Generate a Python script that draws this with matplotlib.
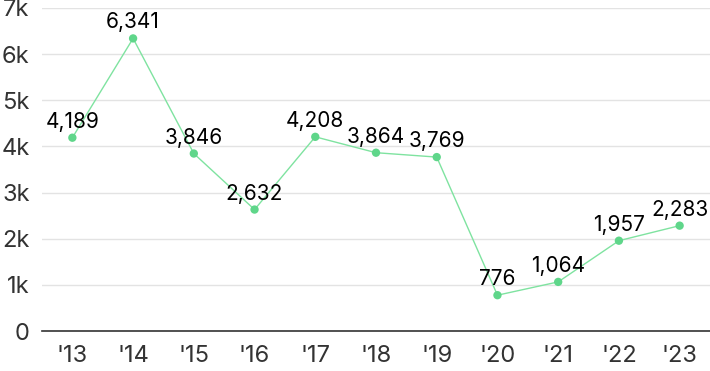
import matplotlib.pyplot as plt
from matplotlib.ticker import FuncFormatter

plt.rcParams['font.family'] = ['Inter', 'DejaVu Sans']

years = ["'13", "'14", "'15", "'16", "'17", "'18", "'19", "'20", "'21", "'22", "'23"]
values = [4189, 6341, 3846, 2632, 4208, 3864, 3769, 776, 1064, 1957, 2283]

fig = plt.figure(figsize=(7.1, 3.71), dpi=100)
ax = fig.add_axes([42 / 710, 40 / 371, 1 - 42 / 710, 323 / 371])

x = list(range(len(years)))
ax.plot(x, values, color='#7fe3a0', linewidth=1, zorder=3)
ax.scatter(x, values, s=36, color='#5fd68a', zorder=4, edgecolors='none')

for xi, v in zip(x, values):
    ax.annotate(f'{v:,}', (xi, v), xytext=(0, 6), textcoords='offset pixels',
                ha='center', va='bottom', fontsize=15, color='black', zorder=5)

ax.set_xlim(-0.5, len(years) - 0.5)
ax.set_ylim(0, 7000)
ax.set_yticks(range(0, 7001, 1000))
ax.yaxis.set_major_formatter(FuncFormatter(lambda v, p: '0' if v == 0 else f'{int(v / 1000)}k'))
ax.set_xticks(x)
ax.set_xticklabels(years)

ax.grid(axis='y', color='#e3e3e3', linewidth=1)
ax.set_axisbelow(True)
for s in ['top', 'right', 'left']:
    ax.spines[s].set_visible(False)
ax.spines['bottom'].set_color('#333333')
ax.spines['bottom'].set_linewidth(1.2)
ax.tick_params(axis='both', length=0, labelsize=17, colors='#333333')
ax.tick_params(axis='y', pad=9)
ax.tick_params(axis='x', pad=10)

fig.savefig('out.png', dpi=100)
